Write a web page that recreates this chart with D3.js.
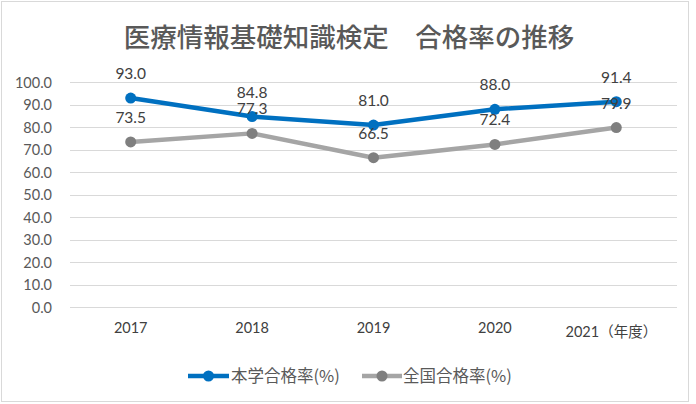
<!DOCTYPE html>
<html><head><meta charset="utf-8">
<script src="https://cdn.jsdelivr.net/npm/d3@7"></script>
<style>
html,body{margin:0;padding:0;background:#fff;}
svg{display:block;}
</style></head>
<body>
<script>
const title = "医療情報基礎知識検定\u3000合格率の推移";
const categories = ["2017","2018","2019","2020","2021"];
const categoryLabels = ["2017","2018","2019","2020","2021（年度）"];
const seriesNames = ["本学合格率(%)","全国合格率(%)"];
const schoolRate = [93.0, 84.8, 81.0, 88.0, 91.4];
const nationalRate = [73.5, 77.3, 66.5, 72.4, 79.9];
const yTicks = [0,10,20,30,40,50,60,70,80,90,100];
const colors = ["#0070C0","#A5A5A5"];
const markerColors = ["#0070C0","#7F7F7F"];

const W = 696, H = 404;
const svg = d3.select("body").append("svg").attr("width", W).attr("height", H);
const numFont = "Lato, 'Open Sans', 'Noto Sans CJK JP', sans-serif";
const jpFont = "'Noto Sans CJK JP', sans-serif";

svg.append("rect").attr("x",1.5).attr("y",1.5).attr("width",687).attr("height",400)
  .attr("fill","#fff").attr("stroke","#D9D9D9").attr("stroke-width",1);

svg.append("text").attr("x",349).attr("y",47).attr("text-anchor","middle")
  .attr("font-family",jpFont).attr("font-size",26.5).attr("font-weight",500)
  .attr("fill","#595959").text(title);

const x = d3.scaleBand().domain(categories).range([70,677]);
const y = d3.scaleLinear().domain([0,100]).range([307.3,82.3]);

// gridlines
svg.append("g").selectAll("line").data(yTicks).join("line")
  .attr("x1",70).attr("x2",677)
  .attr("y1",d=>Math.round(y(d))+0.5).attr("y2",d=>Math.round(y(d))+0.5)
  .attr("stroke","#D9D9D9").attr("stroke-width",1);

// y axis
const yAxis = d3.axisLeft(y).tickValues(yTicks).tickFormat(d3.format(".1f")).tickSize(0).tickPadding(0);
const gy = svg.append("g").attr("transform","translate(52,0)").call(yAxis);
gy.select(".domain").remove();
gy.selectAll("text").attr("font-family",numFont).attr("font-size",14.5).attr("fill","#595959").attr("dy","0.35em");

// x axis
const xAxis = d3.axisBottom(x).tickSize(0).tickPadding(0).tickFormat((d,i)=>categoryLabels[i]);
const gx = svg.append("g").attr("transform","translate(0,322)").call(xAxis);
gx.select(".domain").remove();
gx.selectAll("text").attr("font-family",numFont).attr("font-size",14.5).attr("fill","#404040").attr("dy","0.75em")
  .attr("dx",(d,i)=> i===4 ? -5 : 0)
  .attr("y",(d,i)=> i===4 ? 4 : 0);

const series = [schoolRate, nationalRate];
const line = d3.line().x((d,i)=>x(categories[i])+x.bandwidth()/2).y(d=>y(d));

// draw gray first then blue on top
[1,0].forEach(s=>{
  svg.append("path").datum(series[s]).attr("d",line).attr("fill","none")
    .attr("stroke",colors[s]).attr("stroke-width",4.5).attr("stroke-linejoin","round").attr("stroke-linecap","round");
  svg.append("g").selectAll("circle").data(series[s]).join("circle")
    .attr("cx",(d,i)=>x(categories[i])+x.bandwidth()/2).attr("cy",d=>y(d)).attr("r",5.5)
    .attr("fill",markerColors[s]);
});
[1,0].forEach(s=>{
  svg.append("g").selectAll("text").data(series[s]).join("text")
    .attr("x",(d,i)=>x(categories[i])+x.bandwidth()/2).attr("y",d=>y(d)-19)
    .attr("text-anchor","middle").attr("font-family",numFont).attr("font-size",15.5)
    .attr("fill","#404040").text(d=>d3.format(".1f")(d));
});

// legend
const legendItems = [{x0:188, x1:229, tx:231},{x0:362, x1:402, tx:403}];
legendItems.forEach((L,s)=>{
  const g = svg.append("g");
  g.append("line").attr("x1",L.x0).attr("x2",L.x1).attr("y1",376).attr("y2",376)
    .attr("stroke",colors[s]).attr("stroke-width",4.5);
  g.append("circle").attr("cx",(L.x0+L.x1)/2).attr("cy",376).attr("r",5.5).attr("fill",markerColors[s]);
  g.append("text").attr("x",L.tx).attr("y",376).attr("dy","0.36em")
    .attr("font-family",jpFont).attr("font-size",16.5).attr("fill","#595959").text(seriesNames[s]);
});
</script>
</body></html>
